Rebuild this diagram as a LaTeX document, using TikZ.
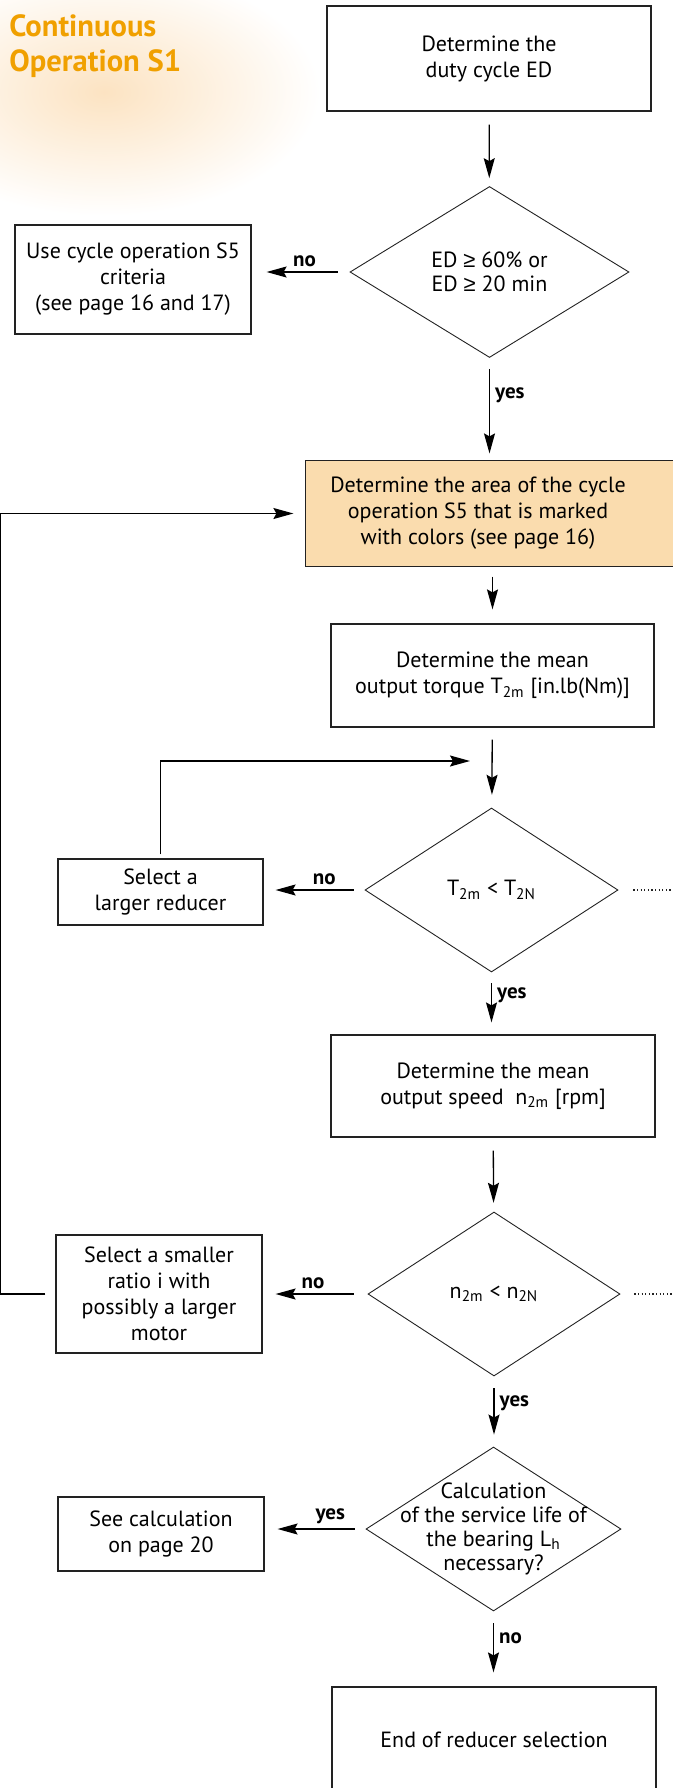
\documentclass[tikz,border=0pt]{standalone}
\usepackage{fontspec}
\setmainfont{PT Sans}
\newfontfamily\symfont{Liberation Sans}
\definecolor{TitleOrange}{HTML}{F0A000}
\definecolor{Peach}{HTML}{FADCAE}
\definecolor{Glow}{HTML}{FCE3C2}
\definecolor{Ink}{HTML}{222222}
\usetikzlibrary{arrows.meta,shapes.geometric,calc,backgrounds}
\tikzset{
  stepbox/.style={draw=Ink,line width=0.6pt,inner sep=0pt,align=center,
    font=\fontsize{11}{13}\selectfont},
  decision/.style={diamond,draw=Ink,line width=0.45pt,inner sep=0pt,align=center,
    font=\fontsize{11}{12}\selectfont},
  arrow/.style={-{Stealth[length=10pt,width=5.5pt,inset=1.5pt]},line width=0.65pt,color=black},
  answer/.style={font=\fontsize{10.5}{12}\selectfont\bfseries,inner sep=2.5pt},
  downanswer/.style={answer,right,yshift=-4.5pt},
  trail/.style={dash pattern=on 0.6pt off 1.2pt,line width=0.6pt,color=Ink},
  heading/.style={font=\fontsize{15.3}{17.5}\selectfont\bfseries,text=TitleOrange,
    align=left,inner sep=0pt}
}

\begin{document}
\begin{tikzpicture}[x=1pt,y=-1pt]
  \useasboundingbox (0,0) rectangle (336.5,894);
  \shade[inner color=Glow,outer color=white] (52,46) ellipse (108 and 62);
  \node[heading,anchor=north west] (title) at (4.5,7) {Continuous\\Operation S1};

  % main column
  \node[stepbox,minimum width=162pt,minimum height=52.5pt] (duty) at (244.5,29.25)
    {Determine the\\duty cycle ED};
  \node[decision,minimum width=139.5pt,minimum height=85.5pt] (ed) at (244.75,136)
    {ED {\symfont ≥} 60\% or\\ED {\symfont ≥} 20 min};
  \node[stepbox,draw=none,minimum width=172pt,minimum height=52.5pt] (area) at (239,256.75)
    {Determine the area of the cycle\\operation S5 that is marked\\with colors (see page 16)};
  \node[stepbox,minimum width=161.5pt,minimum height=51.5pt] (torque) at (246.25,337.75)
    {Determine the mean\\output torque T\textsubscript{2m} [in.lb(Nm)]};
  \node[decision,minimum width=126.5pt,minimum height=82pt] (tcheck) at (245.75,445)
    {T\textsubscript{2m} < T\textsubscript{2N}};
  \node[stepbox,minimum width=162pt,minimum height=51pt] (speed) at (246.5,543)
    {Determine the mean\\output speed \ n\textsubscript{2m} [rpm]};
  \node[decision,minimum width=126pt,minimum height=82pt] (ncheck) at (247,647)
    {n\textsubscript{2m} < n\textsubscript{2N}};
  \node[decision,minimum width=127.5pt,minimum height=82pt,
    label={[align=center,font=\fontsize{11}{12}\selectfont,inner sep=0pt]center:Calculation\\of the service life of\\the bearing L\textsubscript{h}\\necessary?}]
    (life) at (246.75,764.5) {};
  \node[stepbox,minimum width=162pt,minimum height=52.5pt] (finish) at (247,869.75)
    {End of reducer selection};

  % side column
  \node[stepbox,minimum width=118pt,minimum height=54.5pt] (s5) at (66.5,139.75)
    {Use cycle operation S5\\criteria\\(see page 16 and 17)};
  \node[stepbox,minimum width=102.5pt,minimum height=33pt] (larger) at (80.25,446)
    {Select a\\larger reducer};
  \node[stepbox,minimum width=103pt,minimum height=59pt] (smaller) at (79.5,647)
    {Select a smaller\\ratio i with\\possibly a larger\\motor};
  \node[stepbox,minimum width=103pt,minimum height=37pt] (seecalc) at (80.5,767)
    {See calculation\\on page 20};

  \begin{scope}[on background layer]
    \draw[Ink,line width=0.6pt,fill=Peach] (area.south west) rectangle ($(area.north east)+(20,0)$);
  \end{scope}

  \coordinate (merge) at (235,380.5);
  \coordinate (rim) at (336.5,0);

  % connectors
  \draw[arrow,shorten <=6.5pt,shorten >=4pt] (duty) -- (ed);
  \draw[arrow,shorten <=6pt,shorten >=7.5pt] (ed.west) -- (ed.west -| s5.east)
    node[answer,above,pos=0.46] {no};
  \draw[arrow,shorten <=5.5pt,shorten >=3.5pt] (ed.south) -- (ed.south |- area.north)
    node[downanswer,pos=0.28] {yes};
  \draw[arrow,shorten <=5pt,shorten >=7pt] (area.south -| torque) -- (torque.north);
  \draw[arrow,shorten <=6pt,shorten >=6.5pt] (torque) -- (tcheck);
  \draw[arrow,shorten <=5.5pt,shorten >=6pt] (tcheck.west) -- (tcheck.west -| larger.east)
    node[answer,above,pos=0.4] {no};
  \draw[arrow,shorten <=2pt] (larger.north) |- (merge);
  \draw[arrow,shorten <=5.5pt,shorten >=6pt] (tcheck.south) -- (tcheck.south |- speed.north)
    node[downanswer,pos=0.22] {yes};
  \draw[arrow,shorten <=6.5pt,shorten >=4.5pt] (speed) -- (ncheck);
  \draw[arrow,shorten <=7pt,shorten >=6.5pt] (ncheck.west) -- (smaller.east)
    node[answer,above,pos=0.52] {no};
  \draw[arrow,shorten <=5pt,shorten >=6pt] (smaller.west) -- ++(-27.5,0) |- (area.west);
  \draw[arrow,shorten <=6pt,shorten >=6pt] (ncheck.south) -- (ncheck.south |- life.north)
    node[downanswer,pos=0.25] {yes};
  \draw[arrow,shorten <=5.5pt,shorten >=6.5pt] (life.west) -- (life.west -| seecalc.east)
    node[answer,above,pos=0.35] {yes};
  \draw[arrow,shorten <=6pt,shorten >=7pt] (life.south) -- (life.south |- finish.north)
    node[downanswer,pos=0.24] {no};
  \draw[trail] ([xshift=7.5pt]tcheck.east) -- (tcheck.east -| rim);
  \draw[trail] ([xshift=7pt]ncheck.east) -- (ncheck.east -| rim);
\end{tikzpicture}
\end{document}
